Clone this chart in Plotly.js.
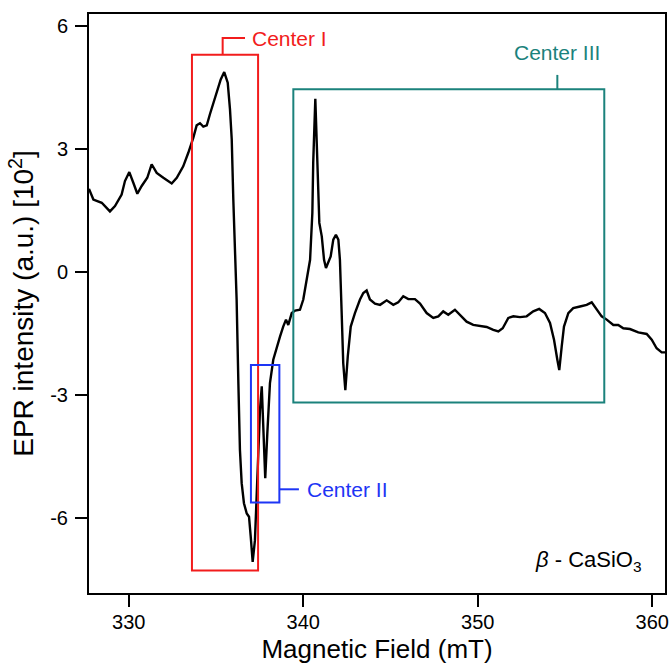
<!DOCTYPE html>
<html>
<head>
<meta charset="utf-8">
<script src="https://cdn.plot.ly/plotly-3.0.1.min.js"></script>
<style>html,body{margin:0;padding:0;background:#fff;}#chart{width:671px;height:665px;}</style>
</head>
<body>
<div id="chart"></div>
<script>
// Magnetic field (mT)
const field = [327.72,327.97,328.45,328.92,329.21,329.59,329.78,330.03,330.26,330.49,330.74,331.06,331.31,331.60,331.98,332.46,332.75,333.12,333.41,333.70,333.89,334.08,334.27,334.47,334.65,335.04,335.27,335.47,335.67,335.80,335.90,335.99,336.09,336.18,336.28,336.37,336.47,336.60,336.76,336.89,336.99,337.10,337.23,337.36,337.52,337.62,337.71,337.82,337.94,338.09,338.28,338.48,338.67,338.85,339.01,339.14,339.34,339.53,339.81,340.00,340.20,340.39,340.52,340.57,340.69,340.80,340.92,341.06,341.19,341.30,341.43,341.57,341.72,341.87,342.01,342.10,342.20,342.29,342.41,342.55,342.72,342.96,343.25,343.44,343.63,343.82,344.11,344.40,344.78,345.16,345.44,345.73,346.02,346.40,346.69,347.07,347.45,347.74,348.02,348.31,348.69,348.98,349.36,349.74,350.13,350.51,350.89,351.18,351.43,351.75,352.04,352.42,352.80,353.18,353.52,353.85,354.14,354.37,354.56,354.67,354.81,354.94,355.19,355.47,355.86,356.24,356.53,356.81,357.10,357.39,357.77,358.05,358.34,358.72,359.20,359.68,359.97,360.25,360.54,360.83];
// EPR intensity (a.u.) x10^2
const intensity = [2.02,1.76,1.68,1.47,1.60,1.88,2.21,2.43,2.17,1.90,2.09,2.29,2.62,2.41,2.29,2.15,2.29,2.57,2.90,3.27,3.57,3.62,3.54,3.57,3.84,4.37,4.69,4.87,4.61,3.96,3.23,1.76,0.54,-0.68,-2.72,-4.35,-5.16,-5.65,-5.90,-5.98,-6.47,-7.08,-6.55,-5.17,-3.37,-2.80,-3.78,-5.04,-3.94,-2.72,-2.15,-1.83,-1.58,-1.34,-1.17,-1.30,-1.01,-0.95,-0.93,-0.68,-0.20,0.29,1.43,2.66,4.22,2.66,1.19,0.86,0.29,0.09,0.25,0.37,0.78,0.90,0.78,0.29,-1.01,-2.23,-2.89,-2.07,-1.34,-1.01,-0.68,-0.52,-0.46,-0.68,-0.78,-0.81,-0.70,-0.81,-0.75,-0.60,-0.67,-0.67,-0.78,-1.01,-1.13,-1.09,-0.97,-1.05,-0.93,-1.05,-1.22,-1.30,-1.32,-1.35,-1.42,-1.46,-1.38,-1.13,-1.09,-1.11,-1.09,-0.97,-0.91,-1.01,-1.25,-1.66,-2.15,-2.40,-1.83,-1.34,-1.01,-0.89,-0.85,-0.81,-0.75,-0.93,-1.09,-1.17,-1.30,-1.30,-1.38,-1.40,-1.48,-1.52,-1.66,-1.87,-1.97,-1.97];

const xTickVals = [330, 340, 350, 360];
const xTickText = ["330", "340", "350", "360"];
const yTickVals = [-6, -3, 0, 3, 6];
const yTickText = ["-6", "-3", "0", "3", "6"];

const centerLabels = ["Center I", "Center II", "Center III"];
const sampleLabel = "<i>β</i> - CaSiO<sub>3</sub>";

const RED = "#f21c1c", BLUE = "#1d35f5", TEAL = "#1b827c";
const FONT = "Liberation Sans, Arial, sans-serif";

const trace = {
  x: field, y: intensity, type: "scatter", mode: "lines",
  line: {color: "#000", width: 2.4}, hoverinfo: "skip", showlegend: false
};

const shapes = [
  // Center I
  {type: "rect", xref: "x", yref: "y", x0: 333.62, x1: 337.41, y0: -7.29, y1: 5.29, line: {color: RED, width: 2}},
  {type: "path", xref: "x", yref: "y", path: "M 335.38 5.29 L 335.38 5.70 L 336.66 5.70", line: {color: RED, width: 2}},
  // Center II
  {type: "rect", xref: "x", yref: "y", x0: 337.00, x1: 338.63, y0: -5.63, y1: -2.28, line: {color: BLUE, width: 2}},
  {type: "line", xref: "x", yref: "y", x0: 338.63, x1: 339.75, y0: -5.31, y1: -5.31, line: {color: BLUE, width: 2}},
  // Center III
  {type: "rect", xref: "x", yref: "y", x0: 339.43, x1: 357.25, y0: -3.19, y1: 4.45, line: {color: TEAL, width: 2}},
  {type: "line", xref: "x", yref: "y", x0: 354.56, x1: 354.56, y0: 4.45, y1: 4.80, line: {color: TEAL, width: 2}}
];

const annotations = [
  {x: 336.95, y: 5.70, xref: "x", yref: "y", text: centerLabels[0], showarrow: false, xanchor: "left", yanchor: "middle", font: {family: FONT, size: 21, color: RED}},
  {x: 340.10, y: -5.31, xref: "x", yref: "y", text: centerLabels[1], showarrow: false, xanchor: "left", yanchor: "middle", font: {family: FONT, size: 21, color: BLUE}},
  {x: 354.56, y: 5.35, xref: "x", yref: "y", text: centerLabels[2], showarrow: false, xanchor: "center", yanchor: "middle", font: {family: FONT, size: 21, color: TEAL}},
  {x: 359.55, y: -7.05, xref: "x", yref: "y", text: sampleLabel, showarrow: false, xanchor: "right", yanchor: "middle", font: {family: FONT, size: 22, color: "#000"}}
];

const layout = {
  width: 671, height: 665,
  margin: {l: 89, r: 6, t: 14, b: 72, pad: 0},
  paper_bgcolor: "#fff", plot_bgcolor: "#fff",
  font: {family: FONT, color: "#000", size: 20},
  xaxis: {
    range: [327.72, 360.73], tickvals: xTickVals, ticktext: xTickText,
    ticks: "outside", ticklen: 12, tickwidth: 2, tickcolor: "#000",
    showline: true, linecolor: "#000", linewidth: 2, mirror: true,
    showgrid: false, zeroline: false, tickfont: {size: 20}, ticklabelstandoff: -2,
    title: {text: "Magnetic Field (mT)", font: {size: 26}, standoff: 8}
  },
  yaxis: {
    range: [-7.84, 6.286], tickvals: yTickVals, ticktext: yTickText,
    ticks: "outside", ticklen: 12, tickwidth: 2, tickcolor: "#000",
    showline: true, linecolor: "#000", linewidth: 2, mirror: true,
    showgrid: false, zeroline: false, tickfont: {size: 20}, ticklabelstandoff: 3,
    title: {text: "EPR intensity (a.u.) [10<sup>2</sup>]", font: {size: 28}, standoff: 8}
  },
  shapes: shapes,
  annotations: annotations,
  showlegend: false
};

Plotly.newPlot("chart", [trace], layout, {displayModeBar: false, staticPlot: true});
</script>
</body>
</html>
